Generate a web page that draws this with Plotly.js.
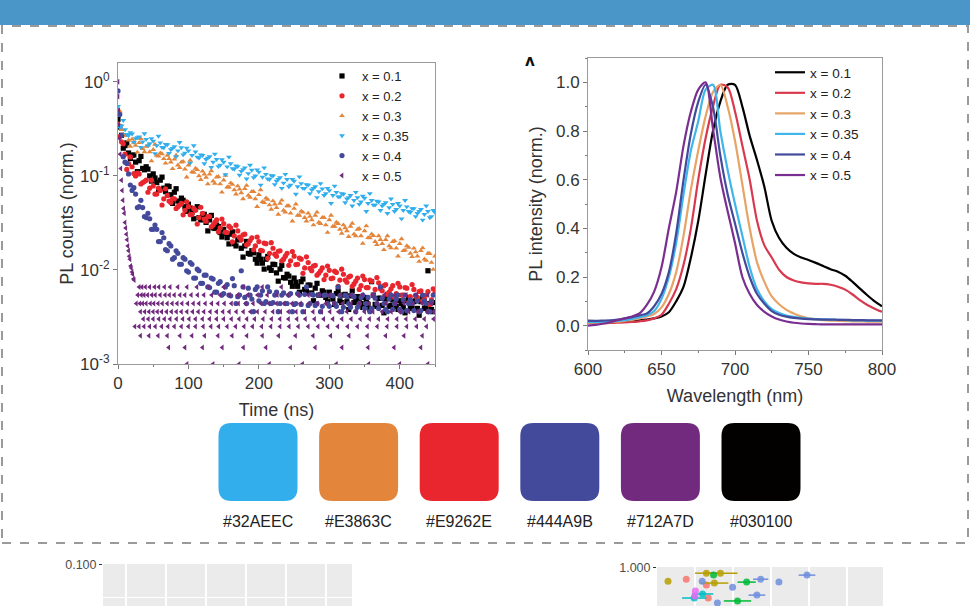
<!DOCTYPE html>
<html><head><meta charset="utf-8">
<script src="https://cdn.plot.ly/plotly-3.0.1.min.js"></script>
<style>html,body{margin:0;padding:0;background:#fff;}#chart{width:970px;height:606px;}</style>
</head><body><div id="chart"></div>
<script>
// ---------- data ----------
const seriesNames = ['x = 0.1','x = 0.2','x = 0.3','x = 0.35','x = 0.4','x = 0.5'];
const seriesColors = ['#030100','#E9262E','#E3863C','#32AEEC','#444A9B','#712A7D'];
const specColors = ['#030100','#D9394F','#E8A466','#3FB6EA','#444A9B','#7A2F90'];
const decaySymbols = ['square','circle','triangle-up','triangle-down','circle','triangle-left'];

const decayTime = [0,5,10,15,20,25,30,35,40,45,50,55,60,65,70,75,80,85,90,95,100,105,110,115,120,125,130,135,140,145,150,155,160,165,170,175,180,185,190,195,200,205,210,215,220,225,230,235,240,245,250,255,260,265,270,275,280,285,290,295,300,305,310,315,320,325,330,335,340,345,350,355,360,365,370,375,380,385,390,395,400,405,410,415,420,425,430,435,440,445,450];
const decayTimeB = [2.5,7.5,12.5,17.5,22.5,27.5,32.5,37.5,42.5,47.5,52.5,57.5,62.5,67.5,72.5,77.5,82.5,87.5,92.5,97.5,102.5,107.5,112.5,117.5,122.5,127.5,132.5,137.5,142.5,147.5,152.5,157.5,162.5,167.5,172.5,177.5,182.5,187.5,192.5,197.5,202.5,207.5,212.5,217.5,222.5,227.5,232.5,237.5,242.5,247.5,252.5,257.5,262.5,267.5,272.5,277.5,282.5,287.5,292.5,297.5,302.5,307.5,312.5,317.5,322.5,327.5,332.5,337.5,342.5,347.5,352.5,357.5,362.5,367.5,372.5,377.5,382.5,387.5,392.5,397.5,402.5,407.5,412.5,417.5,422.5,427.5,432.5,437.5,442.5,447.5];

const decay01 = [0.4,0.27,0.21,0.175,0.165,0.14,0.145,0.12,0.125,0.1,
0.105,0.085,0.09,0.074,0.078,0.063,0.067,0.054,0.058,0.047,
0.05,0.041,0.044,0.036,0.039,0.032,0.034,0.028,0.03,0.025,
0.027,0.022,0.024,0.019,0.021,0.017,0.018,0.015,0.016,0.013,
0.0145,0.0118,0.013,0.0105,0.0115,0.0093,0.0102,0.0083,0.009,0.0074,
0.0082,0.0067,0.0075,0.0062,0.0069,0.0057,0.0064,0.0054,0.006,0.0051,
0.0058,0.0049,0.0056,0.0047,0.0054,0.0046,0.0053,0.0045,0.0052,0.0044,
0.0051,0.0043,0.0075,0.0043,0.005,0.0042,0.0049,0.0041,0.0048,0.0041,
0.0047,0.004,0.0047,0.004,0.0046,0.0039,0.0046,0.0039,0.0098,0.0038,
0.0045];
const decay01B = [0.33,0.197,0.224,0.153,0.167,0.111,0.161,0.116,0.118,0.088,
0.095,0.071,0.097,0.068,0.077,0.051,0.073,0.053,0.055,0.042,
0.0455,0.035,0.047,0.034,0.039,0.026,0.038,0.0276,0.0289,0.0224,
0.0245,0.0189,0.0254,0.018,0.0209,0.0137,0.0201,0.0147,0.0152,0.0118,
0.013,0.0102,0.0139,0.0099,0.0114,0.0076,0.0112,0.0082,0.0086,0.0067,
0.0074,0.0058,0.008,0.0059,0.0069,0.0047,0.0072,0.0054,0.0058,0.0046,
0.0053,0.0043,0.006,0.0045,0.0055,0.0038,0.006,0.0046,0.005,0.004,
0.0047,0.0038,0.0054,0.0041,0.005,0.0035,0.0055,0.0042,0.0046,0.0038,
0.0044,0.0035,0.0051,0.0039,0.0047,0.0033,0.0051,0.004,0.0044,0.0036];
const decay02 = [0.35,0.23,0.17,0.135,0.125,0.1,0.105,0.085,0.09,0.074,
0.078,0.064,0.07,0.057,0.062,0.052,0.057,0.047,0.051,0.043,
0.047,0.039,0.043,0.036,0.04,0.033,0.037,0.03,0.034,0.028,
0.031,0.025,0.028,0.023,0.026,0.021,0.024,0.019,0.022,0.018,
0.02,0.016,0.019,0.015,0.017,0.014,0.016,0.013,0.015,0.0125,
0.014,0.0115,0.013,0.0105,0.012,0.0098,0.0112,0.0092,0.0105,0.0088,
0.0099,0.0082,0.0094,0.0078,0.009,0.0074,0.0086,0.0071,0.0082,0.0068,
0.0079,0.0065,0.0076,0.0062,0.0073,0.006,0.007,0.0058,0.0068,0.0056,
0.0066,0.0054,0.0064,0.0052,0.0062,0.0051,0.006,0.0049,0.0059,0.0048,
0.0057];
const decay02B = [0.261,0.22,0.117,0.159,0.106,0.107,0.082,0.087,0.067,0.09,
0.064,0.074,0.049,0.073,0.054,0.057,0.045,0.049,0.0385,0.053,
0.0387,0.0451,0.0308,0.0464,0.0347,0.0368,0.0288,0.032,0.0254,0.0348,
0.0252,0.0292,0.0199,0.0299,0.0223,0.0236,0.0185,0.0205,0.0164,0.0224,
0.0162,0.0193,0.0133,0.0195,0.0147,0.0158,0.0125,0.014,0.0112,0.0157,
0.0114,0.0134,0.0092,0.0138,0.0104,0.011,0.0088,0.0098,0.0079,0.011,
0.0081,0.0097,0.0067,0.0102,0.0078,0.0084,0.0067,0.0076,0.0062,0.0086,
0.0065,0.0078,0.0054,0.0083,0.0063,0.0068,0.0055,0.0063,0.0051,0.0072,
0.0054,0.0065,0.0045,0.007,0.0053,0.0059,0.0047,0.0054,0.0043,0.0063];
const decay03 = [0.5,0.31,0.27,0.24,0.245,0.21,0.225,0.195,0.205,0.18,
0.19,0.165,0.175,0.152,0.165,0.14,0.15,0.13,0.14,0.118,
0.13,0.11,0.12,0.1,0.112,0.096,0.104,0.088,0.097,0.082,
0.09,0.076,0.084,0.071,0.078,0.066,0.073,0.062,0.068,0.057,
0.063,0.053,0.058,0.049,0.054,0.046,0.051,0.043,0.048,0.04,
0.045,0.038,0.042,0.036,0.04,0.034,0.038,0.032,0.036,0.03,
0.034,0.029,0.032,0.027,0.03,0.026,0.029,0.024,0.027,0.023,
0.026,0.022,0.024,0.02,0.023,0.019,0.021,0.018,0.02,0.017,
0.019,0.016,0.018,0.015,0.017,0.014,0.016,0.013,0.015,0.012,
0.014];
const decay03B = [0.488,0.276,0.268,0.206,0.227,0.178,0.248,0.18,0.211,0.144,
0.216,0.162,0.171,0.136,0.152,0.119,0.165,0.122,0.142,0.097,
0.146,0.109,0.116,0.091,0.104,0.082,0.113,0.083,0.098,0.067,
0.101,0.076,0.081,0.064,0.072,0.057,0.079,0.059,0.068,0.047,
0.071,0.052,0.056,0.044,0.05,0.039,0.055,0.041,0.048,0.033,
0.05,0.038,0.041,0.033,0.037,0.03,0.041,0.031,0.036,0.025,
0.038,0.029,0.031,0.0245,0.028,0.0226,0.0313,0.023,0.0275,0.0191,
0.0293,0.0219,0.0231,0.0185,0.021,0.0164,0.023,0.0171,0.0204,0.014,
0.0214,0.0162,0.0173,0.0138,0.0155,0.0123,0.0171,0.0126,0.0149,0.0101];
const decay035 = [0.55,0.34,0.31,0.27,0.28,0.25,0.26,0.23,0.245,0.22,
0.235,0.21,0.225,0.2,0.215,0.19,0.205,0.185,0.2,0.175,
0.185,0.165,0.18,0.155,0.165,0.15,0.16,0.14,0.15,0.13,
0.14,0.125,0.135,0.118,0.126,0.112,0.122,0.106,0.115,0.1,
0.11,0.097,0.104,0.092,0.1,0.088,0.096,0.084,0.092,0.08,
0.088,0.077,0.083,0.074,0.08,0.071,0.077,0.068,0.073,0.065,
0.07,0.062,0.067,0.06,0.064,0.057,0.062,0.055,0.059,0.053,
0.058,0.051,0.055,0.049,0.053,0.048,0.052,0.046,0.05,0.044,
0.048,0.043,0.047,0.041,0.045,0.04,0.044,0.039,0.042,0.037,
0.041];
const decay035B = [0.328,0.39,0.276,0.289,0.228,0.255,0.201,0.281,0.209,0.25,
0.173,0.265,0.201,0.217,0.174,0.197,0.16,0.227,0.168,0.198,
0.137,0.21,0.159,0.168,0.135,0.155,0.123,0.171,0.126,0.149,
0.103,0.159,0.12,0.128,0.102,0.117,0.093,0.13,0.096,0.116,
0.08,0.122,0.093,0.101,0.081,0.092,0.074,0.104,0.077,0.092,
0.064,0.098,0.074,0.081,0.065,0.074,0.059,0.083,0.062,0.074,
0.051,0.078,0.06,0.065,0.052,0.059,0.048,0.067,0.05,0.061,
0.042,0.065,0.049,0.054,0.043,0.05,0.04,0.057,0.042,0.051,
0.035,0.055,0.042,0.045,0.037,0.042,0.034,0.048,0.036,0.043];
const decay04 = [0.8,0.27,0.14,0.105,0.07,0.064,0.047,0.046,0.036,0.035,
0.027,0.027,0.02,0.022,0.016,0.018,0.0135,0.015,0.0115,0.013,
0.0095,0.0115,0.0082,0.0098,0.0072,0.0088,0.0065,0.008,0.0058,0.0075,
0.0056,0.007,0.0053,0.0068,0.0052,0.0098,0.0051,0.0064,0.0049,0.0062,
0.0047,0.006,0.0046,0.0059,0.0045,0.0058,0.0044,0.0057,0.0044,0.0056,
0.0043,0.0056,0.0043,0.0055,0.0042,0.0055,0.0042,0.0054,0.0041,0.0054,
0.0041,0.0053,0.0041,0.0053,0.004,0.0052,0.004,0.0052,0.004,0.0051,
0.0039,0.0051,0.0039,0.005,0.0039,0.005,0.0038,0.0049,0.0038,0.0049,
0.0038,0.0048,0.0037,0.0048,0.0037,0.0047,0.0037,0.0047,0.0036,0.0046,
0.0036];
const decay04B = [0.45,0.16,0.135,0.08,0.075,0.046,0.055,0.037,0.04,0.027,
0.03,0.02,0.025,0.0165,0.019,0.013,0.016,0.0115,0.0135,0.0098,
0.012,0.0082,0.0102,0.0072,0.0088,0.0066,0.0082,0.0058,0.0072,0.0054,
0.0066,0.0054,0.0081,0.0044,0.0054,0.0066,0.0044,0.0054,0.0036,0.0066,
0.0054,0.0044,0.0066,0.0044,0.0054,0.0036,0.0054,0.0044,0.0054,0.0036,
0.0044,0.0054,0.0036,0.0066,0.0044,0.0054,0.0044,0.0036,0.0054,0.0044,
0.0054,0.0044,0.0066,0.0036,0.0054,0.0044,0.0054,0.0036,0.0044,0.0054,
0.0044,0.0036,0.0054,0.0044,0.0066,0.0044,0.0036,0.0054,0.0044,0.0054,
0.0036,0.0054,0.0044,0.0044,0.0054,0.0036,0.0054,0.0044,0.0036,0.0054];
// x = 0.5: fast initial decay, then photon-count-quantised rows
const purpleEarlyT = [0,0,1,1,2,3,4,5,6,7,8,9,10,11,12,13,14,15,16,17,18,19,20,21,22,23];
const purpleEarlyY = [1.0,0.7,0.5,0.35,0.25,0.17,0.12,0.09,0.07,0.055,0.045,0.04,0.032,0.028,0.024,0.021,0.018,0.016,0.014,0.013,0.011,0.0105,0.0095,0.009,0.008,0.0078];
const purpleLevels = [0.0066,0.0054,0.0044,0.0036,0.003,0.0025,0.002,0.0015,0.001];
const purpleRowTimes = [
 [30,34,39,45,52,58,66,74,85,98,112,128,150,178,205,232],
 [28,33,37,42,48,53,60,67,73,80,88,95,104,113,122,133,145,158,170,184,198,212,226,241,256,270,286,300,316,331,347,362,378,393,409,424,440],
 [26,31,35,40,46,51,57,63,70,77,84,91,99,107,115,124,133,142,151,161,171,181,192,203,214,225,236,247,259,271,283,295,307,319,331,343,356,368,381,394,406,419,432,445],
 [32,38,44,50,56,62,69,76,83,90,98,106,114,122,131,140,149,158,168,178,188,198,209,220,231,242,253,265,277,289,301,313,325,337,350,362,375,388,400,413,426,439,449],
 [36,43,50,58,66,74,83,92,101,110,120,130,140,150,161,172,183,194,206,218,230,242,254,266,279,292,305,318,331,344,357,370,383,396,409,422,435,448],
 [24,30,37,45,53,62,71,80,90,100,110,121,132,143,155,167,179,191,204,217,230,243,256,270,284,298,312,326,340,354,368,382,396,410,424,438],
 [32,44,57,70,88,105,123,142,162,183,205,228,252,277,302,328,354,380,406,432],
 [72,95,120,148,178,210,245,280,318,355,392,430],
 [98,135,172,215,262,310,356,400,440]
];
const decayTickVals = [1,0.1,0.01,0.001];
const decayTickText = ['10<sup>0</sup>','10<sup>-1</sup>','10<sup>-2</sup>','10<sup>-3</sup>'];

const wavelength = [600,605,610,615,620,625,630,635,640,645,650,655,660,665,670,675,680,685,690,695,700,705,710,715,720,725,730,735,740,745,750,755,760,765,770,775,780,785,790,795,800];
const spec01 = [0.02,0.019,0.018,0.018,0.018,0.019,0.02,0.022,0.025,0.03,
0.038,0.055,0.1,0.16,0.28,0.43,0.62,0.8,0.92,0.99,
0.99,0.9,0.78,0.68,0.57,0.43,0.36,0.32,0.295,0.28,
0.27,0.258,0.245,0.232,0.222,0.205,0.18,0.152,0.125,0.1,0.08];
const spec02 = [0.01,0.01,0.01,0.011,0.012,0.013,0.015,0.018,0.022,0.03,
0.045,0.09,0.15,0.25,0.4,0.6,0.77,0.9,0.99,0.98,
0.88,0.74,0.6,0.43,0.33,0.28,0.23,0.2,0.186,0.178,
0.174,0.172,0.172,0.168,0.16,0.148,0.128,0.105,0.085,0.07,0.057];
const spec03 = [0.012,0.012,0.013,0.014,0.016,0.02,0.024,0.03,0.038,0.048,
0.075,0.13,0.22,0.37,0.56,0.72,0.86,0.96,0.99,0.9,
0.76,0.58,0.4,0.26,0.18,0.12,0.088,0.065,0.05,0.038,
0.03,0.026,0.023,0.021,0.02,0.019,0.018,0.0175,0.017,0.0165,0.016];
const spec035 = [0.015,0.015,0.016,0.017,0.02,0.023,0.028,0.035,0.042,0.06,
0.11,0.2,0.34,0.54,0.72,0.84,0.97,0.99,0.8,0.64,
0.5,0.37,0.24,0.15,0.1,0.068,0.052,0.042,0.036,0.032,
0.029,0.027,0.026,0.025,0.024,0.023,0.022,0.022,0.021,0.021,0.02];
const spec04 = [0.02,0.02,0.021,0.022,0.025,0.03,0.035,0.042,0.05,0.08,
0.13,0.22,0.38,0.6,0.79,0.92,0.99,0.9,0.7,0.54,
0.42,0.3,0.2,0.13,0.09,0.06,0.045,0.037,0.032,0.029,
0.027,0.026,0.025,0.025,0.024,0.024,0.023,0.023,0.022,0.022,0.022];
const spec05 = [0.0,0.003,0.008,0.014,0.022,0.03,0.038,0.05,0.085,0.14,
0.24,0.4,0.55,0.74,0.88,0.97,1.0,0.81,0.61,0.47,
0.34,0.2,0.13,0.085,0.057,0.038,0.025,0.017,0.012,0.009,
0.007,0.006,0.005,0.005,0.005,0.005,0.005,0.005,0.005,0.005,0.005];

const swatchColors = ['#32AEEC','#E3863C','#E9262E','#444A9B','#712A7D','#030100'];
const swatchLabels = ['#32AEEC','#E3863C','#E9262E','#444A9B','#712A7D','#030100'];

// partial ggplot panel at the bottom right
const dotX = [0.29,0.77,1.3,1.67,1.49,1.19,1.51,1.3,1.99,2.36,2.73,3.21,3.95,1.01,1.2,0.98,1.35,2.63,2.12,1.59,1.0];
const dotY = [0.928,0.938,0.969,0.969,0.959,0.928,0.918,0.908,0.897,0.923,0.938,0.923,0.959,0.877,0.862,0.841,0.841,0.856,0.826,0.815,0.851];
const dotErr = [0,0,0.3,0.45,0,0,0.37,0,0,0.24,0.2,0,0.22,0,0.28,0.32,0,0.22,0.36,0,0];
const dotGroup = ['b','a','b','b','c','e','b','a','e','c','e','e','e','f','d','d','a','e','c','e','f'];
const groupNames = ['a','b','c','d','e','f'];
const groupColors = ['#F8766D','#B79F00','#00BA38','#00BFC4','#6F8FDD','#E76BF3'];

// ---------- traces ----------
const FONT = 'Liberation Sans, Arial, sans-serif';
const decayA = [decay01, decay02, decay03, decay035, decay04];
const decayB = [decay01B, decay02B, decay03B, decay035B, decay04B];
const traces = [];
decayA.forEach((ys, i) => {
  traces.push({type:'scatter', mode:'markers', x:decayTime.concat(decayTimeB), y:ys.concat(decayB[i]), name:seriesNames[i],
    xaxis:'x', yaxis:'y', legend:'legend',
    marker:{symbol:decaySymbols[i], size:5.2, color:seriesColors[i]}});
});
const pT = purpleEarlyT.slice(), pY = purpleEarlyY.slice();
purpleRowTimes.forEach((row, k) => row.forEach(t => { pT.push(t); pY.push(purpleLevels[k]); }));
traces.push({type:'scatter', mode:'markers', x:pT, y:pY, name:seriesNames[5],
  xaxis:'x', yaxis:'y', legend:'legend',
  marker:{symbol:decaySymbols[5], size:5.2, color:seriesColors[5]}});

const specSeries = [spec01, spec02, spec03, spec035, spec04, spec05];
specSeries.forEach((ys, i) => {
  traces.push({type:'scatter', mode:'lines', x:wavelength, y:ys, name:seriesNames[i],
    xaxis:'x2', yaxis:'y2', legend:'legend2',
    line:{color:specColors[i], width:2.2, shape:'spline', smoothing:0.8}});
});

// empty placeholder so the bottom-left ggplot panel is created
traces.push({type:'scatter', mode:'markers', x:[], y:[], xaxis:'x3', yaxis:'y3', showlegend:false});

groupNames.forEach((g, gi) => {
  const xs=[], ys=[], es=[];
  dotGroup.forEach((d, j) => { if (d === g) { xs.push(dotX[j]); ys.push(dotY[j]); es.push(dotErr[j]); } });
  traces.push({type:'scatter', mode:'markers', x:xs, y:ys, xaxis:'x4', yaxis:'y4', showlegend:false,
    error_x:{type:'data', array:es, color:groupColors[gi], thickness:1.5, width:0},
    marker:{size:7, color:groupColors[gi], opacity:0.85}});
});

// ---------- layout ----------
const W = 970, H = 606;
const px = v => v / W, py = v => 1 - v / H;

const shapes = [
  {type:'rect', xref:'paper', yref:'paper', x0:0, x1:1, y0:py(25), y1:1, fillcolor:'#4A96C8', line:{width:0}, layer:'below'},
  {type:'rect', xref:'paper', yref:'paper', x0:px(2), x1:px(968), y0:py(543), y1:py(26), line:{color:'#9A9A9A', width:2, dash:'dash'}},
  {type:'rect', xref:'x3 domain', yref:'y3 domain', x0:0, x1:1, y0:0, y1:1, fillcolor:'#EBEBEB', line:{width:0}, layer:'below'},
  {type:'rect', xref:'x4 domain', yref:'y4 domain', x0:0, x1:1, y0:0, y1:1, fillcolor:'#EBEBEB', line:{width:0}, layer:'below'}
];
const swW = 0.785, rx = 0.13, ry = 0.167;
swatchColors.forEach((c, i) => {
  const x0 = i - swW/2, x1 = i + swW/2, y0 = 0, y1 = 1;
  shapes.push({type:'path', xref:'x5', yref:'y5', fillcolor:c, line:{width:0},
    path:`M${x0+rx},${y0} L${x1-rx},${y0} Q${x1},${y0} ${x1},${y0+ry} L${x1},${y1-ry} Q${x1},${y1} ${x1-rx},${y1} L${x0+rx},${y1} Q${x0},${y1} ${x0},${y1-ry} L${x0},${y0+ry} Q${x0},${y0} ${x0+rx},${y0} Z`});
});

const annotations = swatchLabels.map((t, i) => ({xref:'x5', yref:'paper', x:i, y:py(521), text:t, showarrow:false,
  font:{family:FONT, size:16, color:'#222'}, xanchor:'center', yanchor:'middle'}));
annotations.push({xref:'paper', yref:'paper', x:px(530), y:py(50), text:'<b>ʌ</b>', showarrow:false,
  font:{family:'DejaVu Sans', size:15, color:'#111'}});

const axisLine = {showline:true, mirror:true, linecolor:'#9A9A9A', linewidth:1, showgrid:false, zeroline:false,
  ticks:'outside', ticklen:4, tickcolor:'#777', tickfont:{family:FONT, size:17, color:'#333'}};
const titleFont = {family:FONT, size:18, color:'#333'};

const layout = {
  width:W, height:H, margin:{l:0,r:0,t:0,b:0}, paper_bgcolor:'#ffffff', plot_bgcolor:'rgba(0,0,0,0)',
  font:{family:FONT, color:'#333'},
  xaxis: Object.assign({}, axisLine, {domain:[px(118), px(435)], anchor:'y', range:[0,450], dtick:100, tick0:0,
    minor:{dtick:50, ticks:'outside', ticklen:2, tickcolor:'#777'},
    title:{text:'Time (ns)', font:titleFont, standoff:10}}),
  yaxis: Object.assign({}, axisLine, {domain:[py(364), py(63)], anchor:'x', type:'log', range:[-3,0.2],
    tickmode:'array', tickvals:decayTickVals, ticktext:decayTickText,
    title:{text:'PL counts (norm.)', font:titleFont, standoff:1}}),
  xaxis2: Object.assign({}, axisLine, {domain:[px(588), px(882)], anchor:'y2', range:[600,800], dtick:50, tick0:600,
    minor:{dtick:25, ticks:'outside', ticklen:2, tickcolor:'#777'},
    title:{text:'Wavelength (nm)', font:titleFont, standoff:10}}),
  yaxis2: Object.assign({}, axisLine, {domain:[py(350), py(58)], anchor:'x2', range:[-0.1,1.1], dtick:0.2, tick0:0, tickformat:'.1f',
    minor:{dtick:0.1, ticks:'outside', ticklen:2, tickcolor:'#777'},
    title:{text:'PL intensity (norm.)', font:titleFont, standoff:8}}),
  xaxis3: {domain:[px(103), px(352)], anchor:'y3', range:[-0.575,5.65], dtick:1, tick0:0, showticklabels:false,
    showgrid:true, gridcolor:'#ffffff', gridwidth:1.2, zeroline:false, showline:false, ticks:''},
  yaxis3: {domain:[0, py(564)], anchor:'x3', range:[0.0682,0.1002], dtick:0.05, tick0:0, tickformat:'.3f',
    showgrid:true, gridcolor:'#ffffff', zeroline:false, showline:false, ticks:'outside', ticklen:3, tickcolor:'#333',
    minor:{dtick:0.025, showgrid:true, gridcolor:'#ffffff', ticks:''},
    tickfont:{family:FONT, size:12.5, color:'#4D4D4D'}},
  xaxis4: {domain:[px(657), px(883)], anchor:'y4', range:[0,5.95], dtick:1, tick0:4, showticklabels:false,
    showgrid:true, gridcolor:'#ffffff', gridwidth:1.2, zeroline:false, showline:false, ticks:''},
  yaxis4: {domain:[0, py(567)], anchor:'x4', range:[0.8,1.0008], dtick:0.5, tick0:0, tickformat:'.3f',
    showgrid:true, gridcolor:'#ffffff', zeroline:false, showline:false, ticks:'outside', ticklen:3, tickcolor:'#333',
    tickfont:{family:FONT, size:12.5, color:'#4D4D4D'}},
  xaxis5: {domain:[px(207.7), px(811.3)], anchor:'y5', range:[-0.5,5.5], visible:false},
  yaxis5: {domain:[py(501), py(423)], anchor:'x5', range:[0,1], visible:false},
  legend: {x:px(322), y:py(61), xanchor:'left', yanchor:'top', bgcolor:'rgba(0,0,0,0)',
    font:{family:FONT, size:13, color:'#222'}, itemwidth:30, tracegroupgap:0},
  legend2: {x:px(770), y:py(57), xanchor:'left', yanchor:'top', bgcolor:'rgba(0,0,0,0)',
    font:{family:FONT, size:13.5, color:'#222'}, itemwidth:30, tracegroupgap:0},
  shapes: shapes,
  annotations: annotations
};

Plotly.newPlot('chart', traces, layout, {displayModeBar:false, staticPlot:true});
</script>
</body></html>
